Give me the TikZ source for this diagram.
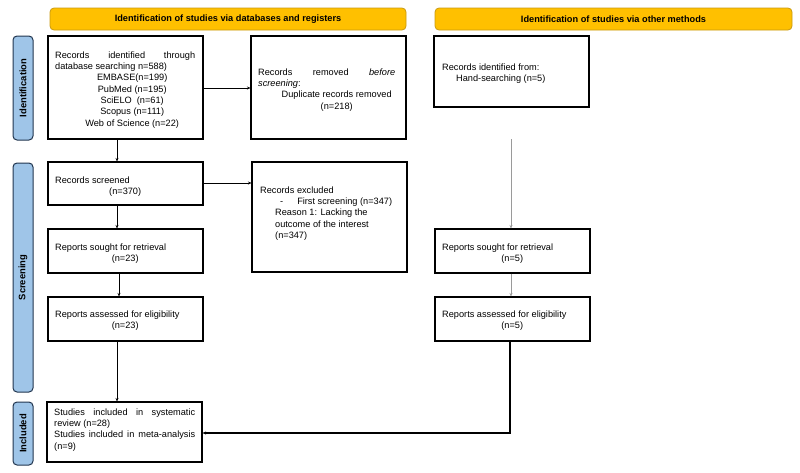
\documentclass[tikz,border=0pt]{standalone}
\usepackage{fontspec}
\setmainfont{Liberation Sans}
\usetikzlibrary{fit,arrows.meta}
\definecolor{hdrfill}{HTML}{FFC000}
\definecolor{hdrdraw}{HTML}{C99A10}
\definecolor{barfill}{HTML}{9FC5E8}
\definecolor{bardraw}{HTML}{22364F}
\definecolor{linegray}{HTML}{9A9A9A}
\begin{document}
\begin{tikzpicture}[x=1pt,y=-1pt,
  font=\fontsize{9.2}{11.3}\selectfont,
  box/.style={draw=black, line width=1.1pt, inner sep=0pt},
  hdr/.style={draw=hdrdraw, fill=hdrfill, rounded corners=4pt, line width=0.8pt, inner sep=0pt},
  hdrlbl/.style={inner sep=0pt, font=\fontsize{9.2}{11}\selectfont\bfseries},
  bar/.style={draw=bardraw, fill=barfill, rounded corners=4pt, line width=1pt, inner sep=0pt},
  barlbl/.style={rotate=90, inner sep=0pt, font=\fontsize{9.4}{11}\selectfont\bfseries},
  txt/.style={anchor=north west, inner sep=0pt, align=left},
  arr/.style={-{Stealth[length=3.5pt,width=3pt]}, line width=0.6pt, draw=black},
  grayarr/.style={-{Stealth[length=3.5pt,width=3pt]}, line width=0.8pt, draw=linegray},
  thickarr/.style={-{Stealth[length=3.5pt,width=3pt]}, line width=1.1pt, draw=black}
]
\useasboundingbox (0,0) rectangle (800,472);

% headers
\node[hdr, fit={(50,8) (406,30)}] (h1) {};
\node[hdr, fit={(435,8) (792,30)}] (h2) {};
\node[hdrlbl] (h1t) at (h1.center) {Identification of studies via databases and registers};
\node[hdrlbl] (h2t) at (h2.center) {Identification of studies via other methods};

% side bars
\node[bar, fit={(13,36) (33,140)}] (s1) {};
\node[bar, fit={(13,163) (33,392)}] (s2) {};
\node[bar, fit={(13,402) (33,465)}] (s3) {};
\node[barlbl] (l1) at (s1.center) {Identification};
\node[barlbl] (l2) at (s2.center) {Screening};
\node[barlbl] (l3) at (s3.center) {Included};

% boxes
\node[box, fit={(48,36) (203,139)}] (bid) {};
\node[box, fit={(251,36) (406,139)}] (brem) {};
\node[box, fit={(434,36) (589,107)}] (bhand) {};
\node[box, fit={(48,162) (203,205)}] (bscr) {};
\node[box, fit={(252,162) (407,272)}] (bexc) {};
\node[box, fit={(48,229) (203,273)}] (bsought) {};
\node[box, fit={(48,297) (203,341)}] (bass) {};
\node[box, fit={(435,229) (590,273)}] (brsought) {};
\node[box, fit={(435,297) (590,341)}] (brass) {};
\node[box, fit={(47,402) (202,462)}] (binc) {};

% texts
\node[txt] (tid) at (55,51.5) {\makebox[140pt][s]{Records\hfill identified\hfill through}\\
database searching n=588)\\
\hspace*{14pt}\makebox[126pt]{EMBASE(n=199)}\\
\hspace*{14pt}\makebox[126pt]{PubMed (n=195)}\\
\hspace*{14pt}\makebox[126pt]{SciELO\ \ (n=61)}\\
\hspace*{14pt}\makebox[126pt]{Scopus (n=111)}\\
\hspace*{14pt}\makebox[126pt]{Web of Science (n=22)}};

\node[txt] (trem) at (258,68.5) {\makebox[137pt][s]{Records\hfill removed\hfill \textit{before}}\\
\textit{screening}:\\
\hspace*{20pt}\makebox[117pt]{Duplicate records removed}\\
\hspace*{20pt}\makebox[117pt]{(n=218)}};

\node[txt] (thand) at (442,63.5) {Records identified from:\\
\hspace*{14pt}Hand-searching (n=5)};

\node[txt] (tscr) at (55,176.5) {Records screened\\
\makebox[140pt]{(n=370)}};

\node[txt] (texc) at (260,186.5) {Records excluded\\
\hspace*{20pt}-\hspace*{14pt}First screening (n=347)\\
\hspace*{15pt}Reason 1: Lacking the\\
\hspace*{15pt}outcome of the interest\\
\hspace*{15pt}(n=347)};

\node[txt] (tsought) at (55,243.5) {Reports sought for retrieval\\
\makebox[140pt]{(n=23)}};

\node[txt] (tass) at (55,310.5) {Reports assessed for eligibility\\
\makebox[140pt]{(n=23)}};

\node[txt] (trsought) at (442,243.5) {Reports sought for retrieval\\
\makebox[140pt]{(n=5)}};

\node[txt] (trass) at (442,310.5) {Reports assessed for eligibility\\
\makebox[140pt]{(n=5)}};

\node[txt] (tinc) at (54,408.5) {\makebox[141pt][s]{Studies\hfill included\hfill in\hfill systematic}\\
review (n=28)\\
\makebox[141pt][s]{Studies\hfill included\hfill in\hfill meta-analysis}\\
(n=9)};

% helper coordinates
\coordinate (cx117) at (117,0);
\coordinate (cx119) at (119,0);
\coordinate (cy88) at (0,88);
\coordinate (cy183) at (0,183);
\coordinate (hstart) at (511,139);
\coordinate (cx511) at (511,0);
\coordinate (cjoin) at (510,433);

% connectors
\draw[arr] (bid.south -| cx117) -- (bscr.north -| cx117);
\draw[arr] (bid.east |- cy88) -- (brem.west |- cy88);
\draw[arr] (bscr.east |- cy183) -- (bexc.west |- cy183);
\draw[arr] (bscr.south -| cx117) -- (bsought.north -| cx117);
\draw[arr] (bsought.south -| cx119) -- (bass.north -| cx119);
\draw[arr] (bass.south -| cx117) -- (binc.north -| cx117);
\draw[grayarr] (hstart) -- (brsought.north -| hstart);
\draw[grayarr] (brsought.south -| cx511) -- (brass.north -| cx511);
\draw[thickarr] (brass.south -| cjoin) -- (cjoin) -- (binc.east |- cjoin);
\end{tikzpicture}
\end{document}
